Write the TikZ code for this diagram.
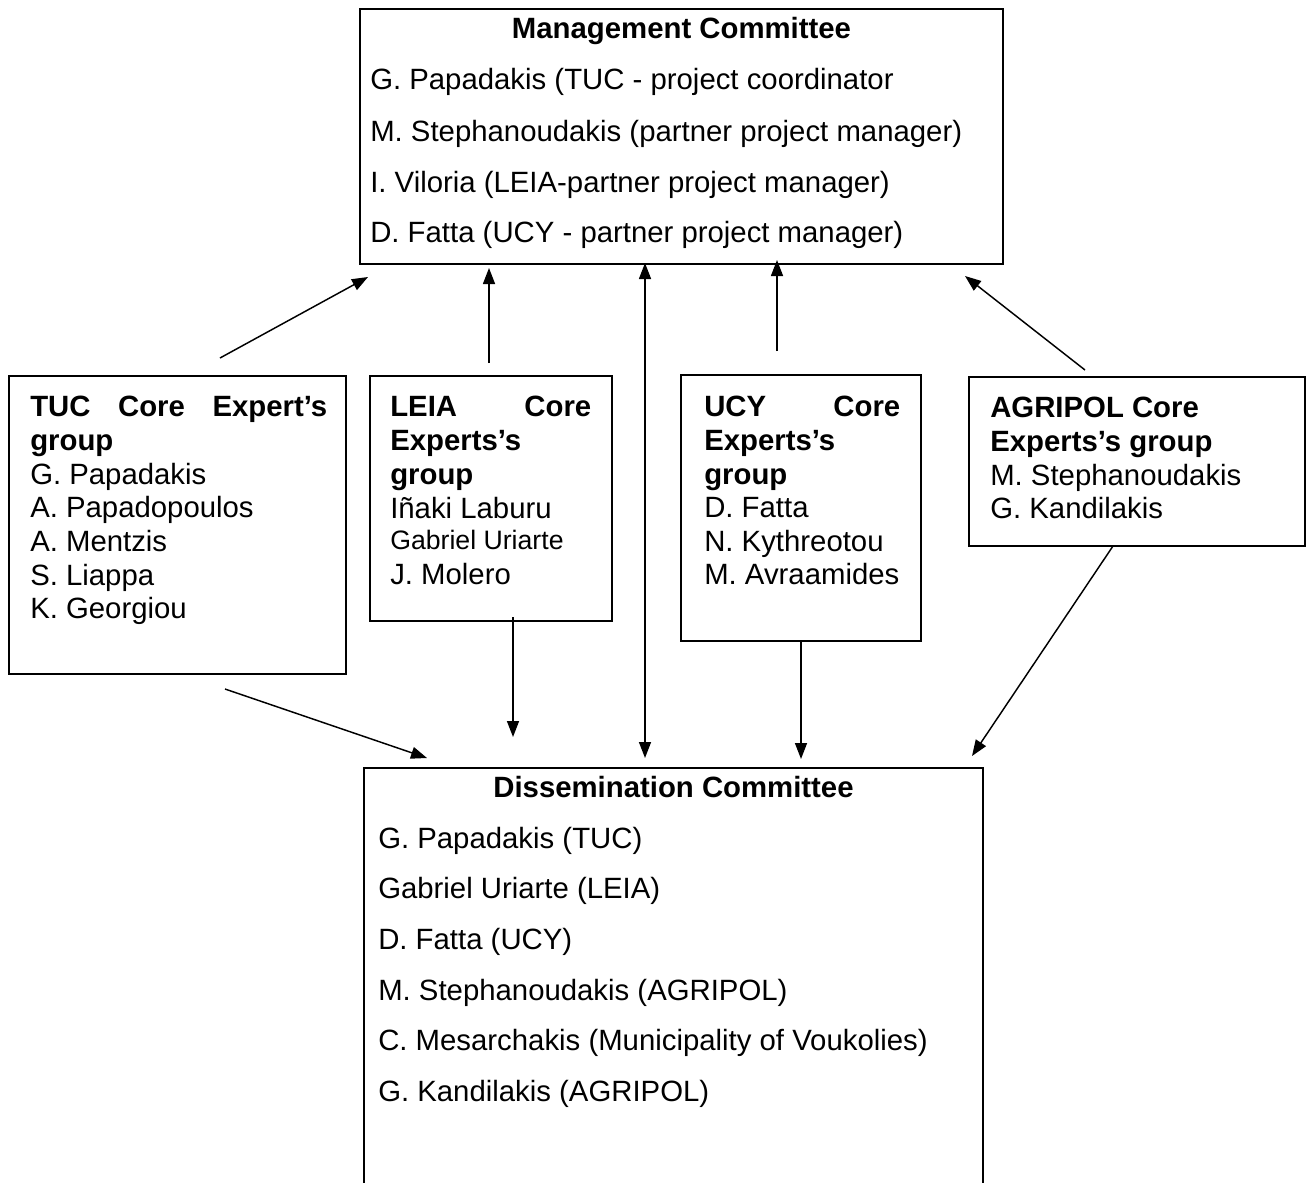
\documentclass[tikz,border=0pt]{standalone}
\usepackage{fontspec}
\setmainfont{Liberation Sans}
\usetikzlibrary{arrows.meta,fit}
\begin{document}
\begin{tikzpicture}[x=0.75pt,y=-0.75pt,
  box/.style={draw, line width=1.3pt, inner sep=0pt},
  bigbox/.style={draw, line width=1.6pt, inner sep=0pt},
  txt/.style={anchor=base west, inner sep=0pt, font=\fontsize{22}{25}\selectfont},
  smalltxt/.style={anchor=base west, inner sep=0pt, font=\fontsize{20}{23}\selectfont},
  hd/.style={anchor=base west, inner sep=0pt, font=\fontsize{22}{25}\selectfont\bfseries},
  ttl/.style={anchor=base, inner sep=0pt, font=\fontsize{22}{25}\selectfont\bfseries},
  conn/.style={line width=1.1pt, -{Triangle[length=12pt,width=9pt]}},
  dconn/.style={line width=1.1pt, {Triangle[length=12pt,width=9pt]}-{Triangle[length=12pt,width=9pt]}},
  ]
\useasboundingbox (0,0) rectangle (1312,1182);

% Management Committee
\node[bigbox, fit={(360,9) (1003,264)}] (mc) {};
\node[ttl] (mct) at (681.5,38) {Management Committee};
\node[txt] (mc1) at (370,89) {G. Papadakis (TUC - project coordinator};
\node[txt] (mc2) at (370,141) {M. Stephanoudakis (partner project manager)};
\node[txt] (mc3) at (370,192) {I. Viloria (LEIA-partner project manager)};
\node[txt] (mc4) at (370,242) {D. Fatta (UCY - partner project manager)};

% TUC
\node[box, fit={(9,376) (346,674)}] (tuc) {};
\node[hd] (tuc0) at (30,416) {\makebox[222.75pt][s]{TUC Core Expert’s}};
\node[hd] (tuc1) at (30,450) {group};
\node[txt] (tuc2) at (30,484) {G. Papadakis};
\node[txt] (tuc3) at (30,517) {A. Papadopoulos};
\node[txt] (tuc4) at (30,551) {A. Mentzis};
\node[txt] (tuc5) at (30,585) {S. Liappa};
\node[txt] (tuc6) at (30,618) {K. Georgiou};

% LEIA
\node[box, fit={(370,376) (612,621)}] (leia) {};
\node[hd] (leia0) at (390,416) {\makebox[150.75pt][s]{LEIA Core}};
\node[hd] (leia1) at (390,450) {Experts’s};
\node[hd] (leia2) at (390,484) {group};
\node[txt] (leia3) at (390,518) {Iñaki Laburu};
\node[smalltxt] (leia4) at (390,549) {Gabriel Uriarte};
\node[txt] (leia5) at (390,584) {J. Molero};

% UCY
\node[box, fit={(681,375) (921,641)}] (ucy) {};
\node[hd] (ucy0) at (704,416) {\makebox[147pt][s]{UCY Core}};
\node[hd] (ucy1) at (704,450) {Experts’s};
\node[hd] (ucy2) at (704,484) {group};
\node[txt] (ucy3) at (704,517) {D. Fatta};
\node[txt] (ucy4) at (704,551) {N. Kythreotou};
\node[txt] (ucy5) at (704,584) {M. Avraamides};

% AGRIPOL
\node[box, fit={(969,377) (1305,546)}] (agr) {};
\node[hd] (agr0) at (990,417) {AGRIPOL Core};
\node[hd] (agr1) at (990,451) {Experts’s group};
\node[txt] (agr2) at (990,485) {M. Stephanoudakis};
\node[txt] (agr3) at (990,518) {G. Kandilakis};

% Dissemination Committee (bottom edge lies below the page)
\node[inner sep=0pt, fit={(364,768) (983,1195)}] (dc) {};
\draw[line width=1.6pt] (dc.south west) -- (dc.north west) -- (dc.north east) -- (dc.south east);
\node[ttl] (dct) at (673.5,797) {Dissemination Committee};
\node[txt] (dc1) at (378,848) {G. Papadakis (TUC)};
\node[txt] (dc2) at (378,898) {Gabriel Uriarte (LEIA)};
\node[txt] (dc3) at (378,949) {D. Fatta (UCY)};
\node[txt] (dc4) at (378,1000) {M. Stephanoudakis (AGRIPOL)};
\node[txt] (dc5) at (378,1050) {C. Mesarchakis (Municipality of Voukolies)};
\node[txt] (dc6) at (378,1101) {G. Kandilakis (AGRIPOL)};

% connector end points
\coordinate (a1s) at (220,358);  \coordinate (a1e) at (368,277);
\coordinate (a2s) at (489,363);  \coordinate (a2e) at (489,268);
\coordinate (a3s) at (645,758);  \coordinate (a3e) at (645,263);
\coordinate (a4s) at (777,351);  \coordinate (a4e) at (777,260);
\coordinate (a5s) at (1085,370); \coordinate (a5e) at (965,276);
\coordinate (b1s) at (225,689);  \coordinate (b1e) at (427,758);
\coordinate (b2s) at (513,617);  \coordinate (b2e) at (513,737);
\coordinate (b4s) at (801,642);  \coordinate (b4e) at (801,759);
\coordinate (b5s) at (1113,546); \coordinate (b5e) at (972,756);

\draw[conn] (a1s) -- (a1e);
\draw[conn] (a2s) -- (a2e);
\draw[dconn] (a3s) -- (a3e);
\draw[conn] (a4s) -- (a4e);
\draw[conn] (a5s) -- (a5e);
\draw[conn] (b1s) -- (b1e);
\draw[conn] (b2s) -- (b2e);
\draw[conn] (b4s) -- (b4e);
\draw[conn] (b5s) -- (b5e);
\end{tikzpicture}
\end{document}
